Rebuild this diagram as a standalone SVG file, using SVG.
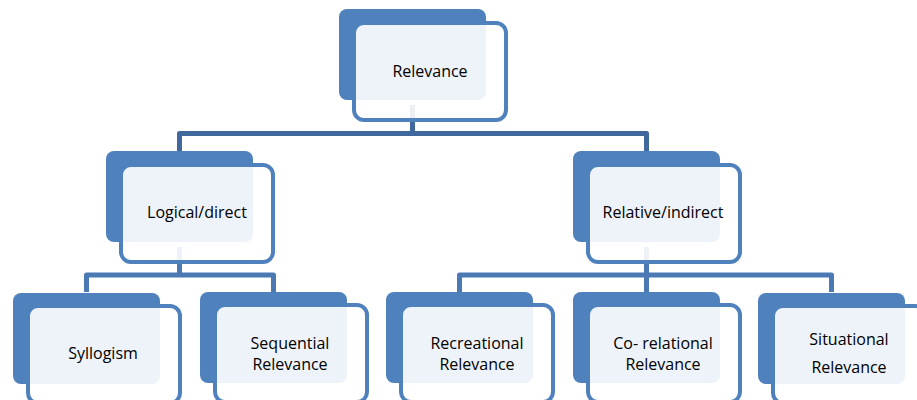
<svg xmlns="http://www.w3.org/2000/svg" width="917" height="400" viewBox="0 0 917 400">
<style>
.back{fill:#4f81bd}
.front{fill:#ffffff;fill-opacity:0.9;stroke:#4f81bd;stroke-width:4}
.c1{fill:none;stroke:#41689c;stroke-width:5;stroke-linejoin:round}
.c2{fill:none;stroke:#4a79b3;stroke-width:5;stroke-linejoin:round}
text{font-family:"Open Sans","Liberation Sans",sans-serif;font-size:16px;fill:#000000;text-anchor:middle}
</style>
<rect width="917" height="400" fill="#ffffff"/>
<g id="connectors">
<path class="c1" d="M412.5,105 V133.5 M179.5,151 V133.5 H646.5 V151"/>
<path class="c2" d="M179.5,247 V275 M86.5,292 V275 H273.5 V292"/>
<path class="c2" d="M646.5,247 V275 M459.5,292 V275 H831.5 V292 M646.5,275 V292"/>
</g>
<g id="relevance">
<rect class="back" x="339" y="9" width="147" height="91" rx="8"/>
<rect class="front" x="354" y="23" width="152" height="97" rx="10"/>
<text x="430" y="77">Relevance</text>
</g>
<g id="logical">
<rect class="back" x="106" y="151" width="147" height="91" rx="8"/>
<rect class="front" x="121" y="165" width="152" height="97" rx="10"/>
<text x="197" y="218">Logical/direct</text>
</g>
<g id="relative">
<rect class="back" x="573" y="151" width="147" height="91" rx="8"/>
<rect class="front" x="588" y="165" width="152" height="97" rx="10"/>
<text x="663" y="218">Relative/indirect</text>
</g>
<g id="syllogism">
<rect class="back" x="13" y="293" width="147" height="91" rx="8"/>
<rect class="front" x="28" y="306" width="152" height="97" rx="10"/>
<text x="103" y="359">Syllogism</text>
</g>
<g id="sequential">
<rect class="back" x="200" y="292" width="147" height="91" rx="8"/>
<rect class="front" x="215" y="305" width="152" height="97" rx="10"/>
<text x="290" y="349">Sequential</text>
<text x="290" y="370">Relevance</text>
</g>
<g id="recreational">
<rect class="back" x="386" y="292" width="147" height="91" rx="8"/>
<rect class="front" x="401" y="305" width="152" height="97" rx="10"/>
<text x="477" y="349">Recreational</text>
<text x="477" y="370">Relevance</text>
</g>
<g id="corelational">
<rect class="back" x="573" y="292" width="147" height="91" rx="8"/>
<rect class="front" x="588" y="305" width="152" height="97" rx="10"/>
<text x="663" y="349">Co- relational</text>
<text x="663" y="370">Relevance</text>
</g>
<g id="situational">
<rect class="back" x="758" y="293" width="147" height="91" rx="8"/>
<rect class="front" x="773" y="306" width="152" height="97" rx="10"/>
<text x="849" y="345">Situational</text>
<text x="849" y="373">Relevance</text>
</g>
</svg>
